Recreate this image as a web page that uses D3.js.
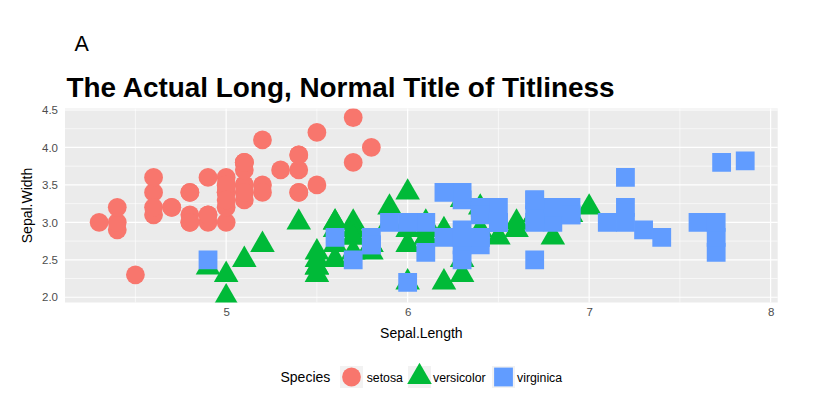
<!DOCTYPE html>
<html>
<head>
<meta charset="utf-8">
<script src="https://cdn.jsdelivr.net/npm/d3@7"></script>
<style>
  body { margin: 0; background: #fff; }
  svg { display: block; font-family: "Liberation Sans", Arial, sans-serif; }
</style>
</head>
<body>
<svg width="836" height="416"></svg>
<script>
const width = 836;
const height = 416;

// iris Sepal.Length / Sepal.Width by species
const setosaLength = [5.1,4.9,4.7,4.6,5.0,5.4,4.6,5.0,4.4,4.9,5.4,4.8,4.8,4.3,5.8,5.7,5.4,5.1,5.7,5.1,5.4,5.1,4.6,5.1,4.8,5.0,5.0,5.2,5.2,4.7,4.8,5.4,5.2,5.5,4.9,5.0,5.5,4.9,4.4,5.1,5.0,4.5,4.4,5.0,5.1,4.8,5.1,4.6,5.3,5.0];
const setosaWidth  = [3.5,3.0,3.2,3.1,3.6,3.9,3.4,3.4,2.9,3.1,3.7,3.4,3.0,3.0,4.0,4.4,3.9,3.5,3.8,3.8,3.4,3.7,3.6,3.3,3.4,3.0,3.4,3.5,3.4,3.2,3.1,3.4,4.1,4.2,3.1,3.2,3.5,3.6,3.0,3.4,3.5,2.3,3.2,3.5,3.8,3.0,3.8,3.2,3.7,3.3];
const versicolorLength = [7.0,6.4,6.9,5.5,6.5,5.7,6.3,4.9,6.6,5.2,5.0,5.9,6.0,6.1,5.6,6.7,5.6,5.8,6.2,5.6,5.9,6.1,6.3,6.1,6.4,6.6,6.8,6.7,6.0,5.7,5.5,5.5,5.8,6.0,5.4,6.0,6.7,6.3,5.6,5.5,5.5,6.1,5.8,5.0,5.6,5.7,5.7,6.2,5.1,5.7];
const versicolorWidth  = [3.2,3.2,3.1,2.3,2.8,2.8,3.3,2.4,2.9,2.7,2.0,3.0,2.2,2.9,2.9,3.1,3.0,2.7,2.2,2.5,3.2,2.8,2.5,2.8,2.9,3.0,2.8,3.0,2.9,2.6,2.4,2.4,2.7,2.7,3.0,3.4,3.1,2.3,3.0,2.5,2.6,3.0,2.6,2.3,2.7,3.0,2.9,2.9,2.5,2.8];
const virginicaLength = [6.3,5.8,7.1,6.3,6.5,7.6,4.9,7.3,6.7,7.2,6.5,6.4,6.8,5.7,5.8,6.4,6.5,7.73,7.7,6.0,6.9,5.6,7.7,6.3,6.7,7.2,6.2,6.1,6.4,7.2,7.4,7.86,6.4,6.3,6.1,7.7,6.3,6.4,6.0,6.9,6.7,6.9,5.8,6.8,6.7,6.7,6.3,6.5,6.2,5.9];
const virginicaWidth  = [3.3,2.7,3.0,2.9,3.0,3.0,2.5,2.9,2.5,3.6,3.2,2.7,3.0,2.5,2.8,3.2,3.0,3.8,2.6,2.2,3.2,2.8,2.8,2.7,3.3,3.2,2.8,3.0,2.8,3.0,2.8,3.82,2.8,2.8,2.6,3.0,3.4,3.1,3.0,3.1,3.1,3.1,2.7,3.2,3.3,3.0,2.5,3.0,3.4,3.0];

const species = ["setosa", "versicolor", "virginica"];
const speciesColors = ["#F8766D", "#00BA38", "#619CFF"];
const xTicks = [5, 6, 7, 8];
const xMinor = [4.5, 5.5, 6.5, 7.5];
const yTicks = [2.0, 2.5, 3.0, 3.5, 4.0, 4.5];
const yMinor = [2.25, 2.75, 3.25, 3.75, 4.25];

const panel = {left: 65, right: 777.7, top: 108.5, bottom: 302.5};

const data = [];
[[setosaLength, setosaWidth], [versicolorLength, versicolorWidth], [virginicaLength, virginicaWidth]]
  .forEach((pair, s) => {
    pair[0].forEach((len, i) => data.push({species: species[s], length: len, width: pair[1][i]}));
  });

const svg = d3.select("svg");

const x = d3.scaleLinear().domain([4.112, 8.039]).range([panel.left, panel.right]);
const y = d3.scaleLinear().domain([1.93, 4.52]).range([panel.bottom, panel.top]);
const color = d3.scaleOrdinal().domain(species).range(speciesColors);

// point shapes: circle, triangle, square
const R = 9.4;
function shapePath(sp) {
  if (sp === "setosa") {
    return `M${-R},0A${R},${R} 0 1,0 ${R},0A${R},${R} 0 1,0 ${-R},0Z`;
  } else if (sp === "versicolor") {
    const xc = 14.2, hw = xc * Math.sqrt(3) / 2;
    return `M0,${-xc}L${hw},${xc / 2}L${-hw},${xc / 2}Z`;
  }
  return `M${-R},${-R}H${R}V${R}H${-R}Z`;
}

// Panel background
svg.append("rect")
  .attr("x", panel.left).attr("y", panel.top)
  .attr("width", panel.right - panel.left)
  .attr("height", panel.bottom - panel.top)
  .attr("fill", "#EBEBEB");

const grid = svg.append("g");
grid.selectAll(".xminor").data(xMinor).enter().append("line")
  .attr("x1", d => x(d)).attr("x2", d => x(d))
  .attr("y1", panel.top).attr("y2", panel.bottom)
  .attr("stroke", "#fff").attr("stroke-width", 0.6);
grid.selectAll(".yminor").data(yMinor).enter().append("line")
  .attr("y1", d => y(d)).attr("y2", d => y(d))
  .attr("x1", panel.left).attr("x2", panel.right)
  .attr("stroke", "#fff").attr("stroke-width", 0.6);
grid.selectAll(".xmajor").data(xTicks).enter().append("line")
  .attr("x1", d => x(d)).attr("x2", d => x(d))
  .attr("y1", panel.top).attr("y2", panel.bottom)
  .attr("stroke", "#fff").attr("stroke-width", 1.2);
grid.selectAll(".ymajor").data(yTicks).enter().append("line")
  .attr("y1", d => y(d)).attr("y2", d => y(d))
  .attr("x1", panel.left).attr("x2", panel.right)
  .attr("stroke", "#fff").attr("stroke-width", 1.2);

// Points
svg.append("defs").append("clipPath").attr("id", "clip")
  .append("rect")
  .attr("x", panel.left).attr("y", panel.top)
  .attr("width", panel.right - panel.left)
  .attr("height", panel.bottom - panel.top);

svg.append("g")
  .attr("clip-path", "url(#clip)")
  .selectAll("path")
  .data(data)
  .enter().append("path")
  .attr("transform", d => `translate(${x(d.length)},${y(d.width)})`)
  .attr("d", d => shapePath(d.species))
  .attr("fill", d => color(d.species));

// Axes (no tick marks, no domain line)
const xAxis = svg.append("g")
  .attr("transform", `translate(0,${panel.bottom})`)
  .call(d3.axisBottom(x).tickValues(xTicks).tickSize(0).tickPadding(5).tickFormat(d3.format("d")));
const yAxis = svg.append("g")
  .attr("transform", `translate(${panel.left},0)`)
  .call(d3.axisLeft(y).tickValues(yTicks).tickSize(0).tickPadding(7).tickFormat(d3.format(".1f")));
[xAxis, yAxis].forEach(a => {
  a.select(".domain").remove();
  a.selectAll("text")
    .attr("fill", "#4D4D4D")
    .style("font-size", "11.5px")
    .style("font-family", "'Liberation Sans', Arial, sans-serif");
});

// Axis titles
svg.append("text")
  .attr("x", (panel.left + panel.right) / 2)
  .attr("y", 338.3)
  .attr("text-anchor", "middle")
  .attr("font-size", "14px")
  .text("Sepal.Length");

svg.append("text")
  .attr("transform", `translate(31.5,${(panel.top + panel.bottom) / 2}) rotate(-90)`)
  .attr("text-anchor", "middle")
  .attr("font-size", "14px")
  .text("Sepal.Width");

// Title and tag
svg.append("text")
  .attr("x", 66.5).attr("y", 97)
  .attr("font-size", "27.9px")
  .attr("font-weight", "bold")
  .text("The Actual Long, Normal Title of Titliness");

svg.append("text")
  .attr("x", 74.5).attr("y", 50.7)
  .attr("font-size", "21.5px")
  .text("A");

// Legend
const legend = svg.append("g");
legend.append("text")
  .attr("x", 280.5).attr("y", 382)
  .attr("font-size", "14px")
  .text("Species");

const keyX = [340, 408, 492];
const labelX = [366.7, 433, 517];
species.forEach((sp, i) => {
  legend.append("rect")
    .attr("x", keyX[i]).attr("y", 366)
    .attr("width", 23).attr("height", 22)
    .attr("fill", "#F2F2F2");
  legend.append("path")
    .attr("transform", `translate(${keyX[i] + 11.5},${377})`)
    .attr("d", shapePath(sp))
    .attr("fill", color(sp));
  legend.append("text")
    .attr("x", labelX[i]).attr("y", 381.5)
    .attr("font-size", "12.3px")
    .text(sp);
});
</script>
</body>
</html>
